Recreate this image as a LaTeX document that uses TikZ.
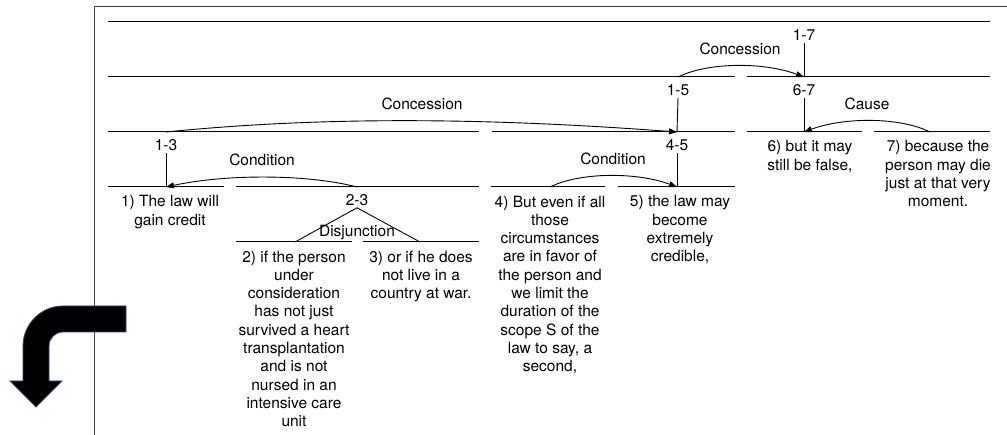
\documentclass[tikz,border=0pt]{standalone}
\usepackage{fontspec}
\setmainfont{TeX Gyre Heros}
\usetikzlibrary{arrows.meta}
\begin{document}
\begin{tikzpicture}[x=1pt,y=-1pt,
  seg/.style={line width=1pt, black},
  frameline/.style={line width=1pt, black!75},
  conn/.style={line width=0.9pt, black, -{Triangle[length=8pt,width=6pt]}},
  stem/.style={line width=0.9pt, black},
  txt/.style={anchor=north, inner sep=0pt, align=center, font=\fontsize{15.5}{18.3}\selectfont},
  lab/.style={inner sep=2pt, font=\fontsize{15.5}{18.3}\selectfont},
  rel/.style={inner sep=0pt, font=\fontsize{15.5}{18.3}\selectfont},
  bigarrow/.style={fill=black, draw={rgb,255:red,50;green,75;blue,120}, line width=0.8pt}]
\useasboundingbox (0,0) rectangle (1007,435);
\fill[white] (0,0) rectangle (1007,435);
% frame
\draw[frameline] (94.5,435) -- (94.5,6.5) -- (1007,6.5);
% horizontal span lines
\draw[seg] (108,22) -- (990,22);
\draw[seg] (108,77) -- (735,77);
\draw[seg] (747,77) -- (990,77);
\draw[seg] (108,132) -- (479,132);
\draw[seg] (492,132) -- (735,132);
\draw[seg] (747,132) -- (862,132);
\draw[seg] (874,132) -- (990,132);
\draw[seg] (108,187) -- (224,187);
\draw[seg] (236,187) -- (479,187);
\draw[seg] (491,187) -- (605,187);
\draw[seg] (618,187) -- (735,187);
\draw[seg] (236,242) -- (352,242);
\draw[seg] (363,242) -- (479,242);
% anchor points
\coordinate (s17) at (804,77);
\coordinate (s15) at (678,77);
\coordinate (s67) at (804,132);
\coordinate (s13) at (166,132);
\coordinate (s45) at (677,132);
\coordinate (s7) at (930,132);
\coordinate (s1) at (166,187);
\coordinate (s23) at (357,187);
\coordinate (s4) at (550,187);
\coordinate (s5) at (677,187);
\coordinate (s2) at (295,242);
\coordinate (s3) at (420,242);
% span labels
\node[lab] (l17) at (804,35) {1-7};
\node[lab] (l15) at (678,90) {1-5};
\node[lab] (l67) at (804,90) {6-7};
\node[lab] (l13) at (166,145) {1-3};
\node[lab] (l45) at (677,145) {4-5};
\node[lab] (l23) at (357,200) {2-3};
% stems
\draw[stem] (l17.south) -- (s17);
\draw[stem] (l15.south) -- (s45);
\draw[stem] (l67.south) -- (s67);
\draw[stem] (l13.south) -- (s1);
\draw[stem] (l45.south) -- (s5);
\draw[stem] (s2) -- (l23.south) -- (s3);
% relation labels
\node[rel] (r1) at (740,49) {Concession};
\node[rel] (r2) at (422,104) {Concession};
\node[rel] (r3) at (867,104) {Cause};
\node[rel] (r4) at (262,160) {Condition};
\node[rel] (r5) at (613,159) {Condition};
\node[rel] (r6) at (357,233) {Disjunction};
% relation arrows
\draw[conn] (s15) .. controls +(30,-15) and +(-40,-15) .. (s17);
\draw[conn] (s13) .. controls +(150,-15) and +(-200,-15) .. (s45);
\draw[conn] (s7) .. controls +(-30,-15) and +(40,-15) .. (s67);
\draw[conn] (s23) .. controls +(-50,-13) and +(60,-13) .. (s1);
\draw[conn] (s4) .. controls +(30,-15) and +(-40,-15) .. (s5);
% leaf texts
\node[txt] (t1) at (170,195.5) {1) The law will\\gain credit};
\node[txt] (t2) at (294,250.5) {2) if the person\\under\\consideration\\has not just\\survived a heart\\transplantation\\and is not\\nursed in an\\intensive care\\unit};
\node[txt] (t3) at (421,250.5) {3) or if he does\\not live in a\\country at war.};
\node[txt] (t4) at (550,195.5) {4) But even if all\\those\\circumstances\\are in favor of\\the person and\\we limit the\\duration of the\\scope S of the\\law to say, a\\second,};
\node[txt] (t5) at (680,195.5) {5) the law may\\become\\extremely\\credible,};
\node[txt] (t6) at (810,140.5) {6) but it may\\still be false,};
\node[txt] (t7) at (938,140.5) {7) because the\\person may die\\just at that very\\moment.};
% big bent arrow
\draw[bigarrow] (126,306) -- (63,306) .. controls (41,306) and (23,324) .. (23,346)
  -- (23,381) -- (10,381) -- (36,407) -- (62,381) -- (49,381) -- (49,346)
  .. controls (49,338.3) and (55.3,332) .. (63,332) -- (126,332) -- cycle;
\end{tikzpicture}
\end{document}
